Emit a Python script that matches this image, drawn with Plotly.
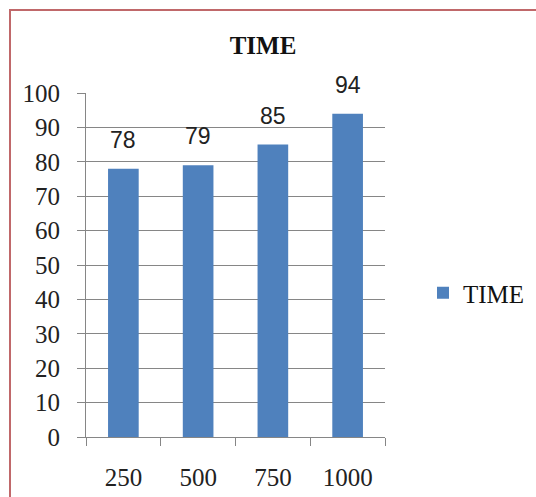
import plotly.graph_objects as go

# Chart data
categories = ["250", "500", "750", "1000"]
time_values = [78, 79, 85, 94]
y_ticks = [0, 10, 20, 30, 40, 50, 60, 70, 80, 90, 100]

W, H = 536, 497
L, R, T, B = 86, 151, 93, 60
plot_w = W - L - R
plot_h = H - T - B


def px_x(p):
    return (p - L) / plot_w


def px_y(p):
    return (H - B - p) / plot_h


BAR = "#4F81BD"
GRID = "#868686"
SERIF = "Liberation Serif, Times New Roman, serif"
SANS = "Liberation Sans, Arial, sans-serif"

fig = go.Figure()
fig.add_trace(go.Bar(
    x=categories,
    y=time_values,
    name="TIME",
    marker=dict(color=BAR, line=dict(width=0)),
))

# value labels above each bar (positioned by category index)
for i, v in enumerate(time_values):
    fig.add_annotation(
        x=i, y=v, text=str(v), showarrow=False,
        yanchor="bottom", yshift=14,
        font=dict(family=SANS, size=23, color="#222222"),
    )

# outer chart border
fig.add_shape(
    type="rect", xref="paper", yref="paper",
    x0=px_x(10), x1=px_x(620), y0=px_y(580), y1=px_y(10),
    line=dict(color="#C0686A", width=2), fillcolor="rgba(0,0,0,0)",
    layer="below",
)

fig.update_layout(
    width=W, height=H,
    margin=dict(l=L, r=R, t=T, b=B, autoexpand=False),
    paper_bgcolor="white", plot_bgcolor="white",
    bargap=0.59,
    showlegend=True,
    title=dict(
        text="<b>TIME</b>", x=px_x(263), xref="paper", xanchor="center",
        y=1 - 45 / H, yanchor="middle",
        font=dict(family=SERIF, size=25, color="#111111"),
    ),
    legend=dict(
        x=px_x(423), y=px_y(293), xanchor="left", yanchor="middle",
        font=dict(family=SERIF, size=25, color="#111111"),
        itemwidth=30, bgcolor="rgba(0,0,0,0)",
    ),
    xaxis=dict(
        type="category", range=[-0.5, len(categories) - 0.5],
        showline=True, linecolor=GRID, linewidth=1,
        ticks="outside", tickson="boundaries", ticklen=8, tickcolor=GRID,
        tickfont=dict(family=SERIF, size=25, color="#222222"),
        ticklabelstandoff=18, tickangle=0,
        showgrid=False, zeroline=False,
    ),
    yaxis=dict(
        range=[0, 100], tickvals=y_ticks,
        showline=True, linecolor=GRID, linewidth=1,
        ticks="outside", ticklen=8, tickcolor=GRID,
        showgrid=True, gridcolor=GRID, gridwidth=1,
        zeroline=False,
        tickfont=dict(family=SERIF, size=25, color="#222222"),
        ticklabelstandoff=12,
    ),
)

fig.write_html("out.html")
